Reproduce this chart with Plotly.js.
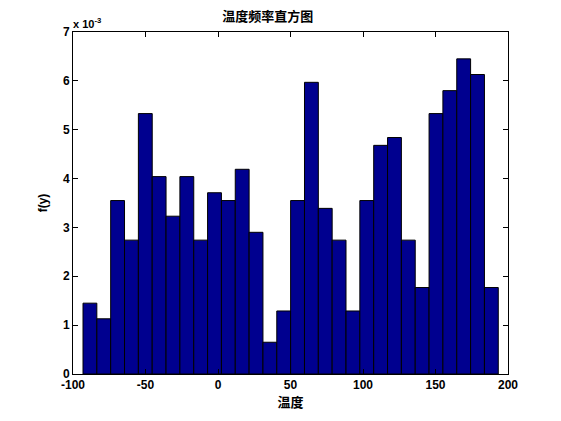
<!DOCTYPE html>
<html><head><meta charset="utf-8">
<script src="https://cdn.plot.ly/plotly-3.0.1.min.js"></script>
<style>html,body{margin:0;padding:0;background:#fff}</style>
</head><body>
<div id="chart" style="width:561px;height:421px"></div>
<script>
// bin centers (temperature)
const binCenters = [-88.33,-78.78,-69.24,-59.69,-50.14,-40.60,-31.05,-21.50,-11.96,-2.41,
  7.14,16.68,26.23,35.78,45.32,54.87,64.42,73.96,83.51,93.06,
  102.60,112.15,121.70,131.24,140.79,150.34,159.88,169.43,178.98,188.52];
const binWidth = 9.547;
// frequency density f(y)
const density = [0.00145,0.00113,0.00355,0.00274,0.00533,0.00404,0.00323,0.00404,0.00274,0.00371,
  0.00355,0.00419,0.00290,0.00065,0.00129,0.00355,0.00597,0.00339,0.00274,0.00129,
  0.00355,0.00468,0.00484,0.00274,0.00177,0.00533,0.00580,0.00645,0.00613,0.00177];
const xTicks = [-100,-50,0,50,100,150,200];
const yTickVals = [0,0.001,0.002,0.003,0.004,0.005,0.006,0.007];
const yTickText = ['0','1','2','3','4','5','6','7'];

const fontLatin = 'Liberation Sans, Arial, sans-serif';
const fontCJK = 'Noto Sans CJK SC, sans-serif';

Plotly.newPlot('chart', [{
  type: 'bar',
  x: binCenters,
  y: density,
  width: binCenters.map(() => binWidth),
  marker: {color: '#00008F', line: {color: '#000000', width: 1}},
  hoverinfo: 'x+y'
}], {
  width: 561, height: 421,
  margin: {l: 73, r: 53, t: 32, b: 47},
  paper_bgcolor: '#ffffff', plot_bgcolor: '#ffffff',
  showlegend: false,
  bargap: 0,
  title: {text: '温度频率直方图', x: 0.448, xref: 'paper', xanchor: 'center', y: 0.96, yanchor: 'middle',
    font: {family: fontCJK, size: 13, color: '#000', weight: 'bold'}},
  xaxis: {
    range: [-100, 200], tickvals: xTicks, ticktext: xTicks.map(String),
    ticks: 'inside', ticklen: 5, tickcolor: '#000', mirror: 'ticks', showline: true,
    linecolor: '#000', linewidth: 1, showgrid: false, zeroline: false,
    tickfont: {family: fontLatin, size: 12, color: '#000', weight: 'bold'},
    title: {text: '温度', standoff: 4, font: {family: fontCJK, size: 13, color: '#000', weight: 'bold'}}
  },
  yaxis: {
    range: [0, 0.007], tickvals: yTickVals, ticktext: yTickText,
    ticks: 'inside', ticklen: 5, tickcolor: '#000', mirror: 'ticks', showline: true,
    linecolor: '#000', linewidth: 1, showgrid: false, zeroline: false,
    tickfont: {family: fontLatin, size: 12, color: '#000', weight: 'bold'},
    title: {text: 'f(y)', standoff: 12, font: {family: fontLatin, size: 12, color: '#000', weight: 'bold'}}
  },
  annotations: [{
    text: 'x 10<sup>-3</sup>', xref: 'paper', yref: 'paper', x: -0.005, y: 1.0,
    xanchor: 'left', yanchor: 'bottom', showarrow: false,
    font: {family: fontLatin, size: 11, color: '#000', weight: 'bold'}
  }]
}, {displayModeBar: false, staticPlot: true});
</script>
</body></html>
